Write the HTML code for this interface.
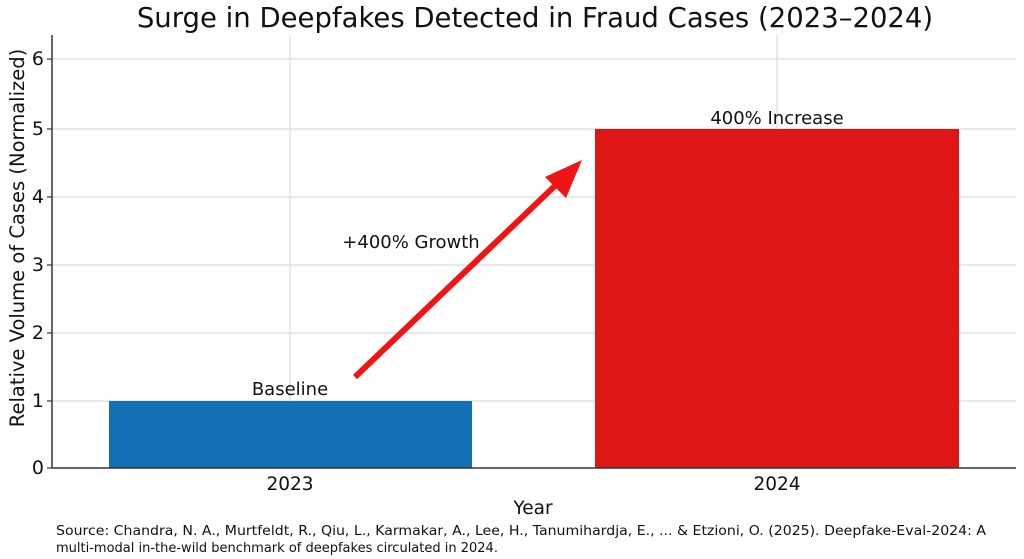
<!DOCTYPE html>
<html><head><style>
body{margin:0;background:#fff;}
svg{display:block;font-family:"DejaVu Sans",sans-serif;}
</style></head><body>
<svg width="1024" height="559" viewBox="0 0 1024 559">
<rect width="1024" height="559" fill="#fff"/>
<text x="535" y="27" font-size="27.5" text-anchor="middle" fill="#111">Surge in Deepfakes Detected in Fraud Cases (2023–2024)</text>
<g stroke="#dcdcdc" stroke-width="1.2">
<line x1="52" y1="59" x2="1016" y2="59"/>
<line x1="52" y1="129" x2="1016" y2="129"/>
<line x1="52" y1="197" x2="1016" y2="197"/>
<line x1="52" y1="265" x2="1016" y2="265"/>
<line x1="52" y1="333" x2="1016" y2="333"/>
<line x1="52" y1="401" x2="1016" y2="401"/>
<line x1="290" y1="35" x2="290" y2="468"/>
<line x1="777" y1="35" x2="777" y2="468"/>
</g>
<rect x="109" y="401" width="363" height="67" fill="#1470b4"/>
<rect x="595" y="129" width="364" height="339" fill="#de1616"/>
<line x1="52" y1="35" x2="52" y2="468" stroke="#333" stroke-width="1.5"/>
<line x1="52" y1="468" x2="1016" y2="468" stroke="#333" stroke-width="1.5"/>
<g font-size="19" fill="#111" text-anchor="end">
<text x="44" y="65">6</text><text x="44" y="135">5</text><text x="44" y="203">4</text>
<text x="44" y="271">3</text><text x="44" y="339">2</text><text x="44" y="407">1</text><text x="44" y="474">0</text>
</g>
<g stroke="#333" stroke-width="1.2">
<line x1="47" y1="59" x2="52" y2="59"/><line x1="47" y1="129" x2="52" y2="129"/><line x1="47" y1="197" x2="52" y2="197"/>
<line x1="47" y1="265" x2="52" y2="265"/><line x1="47" y1="333" x2="52" y2="333"/><line x1="47" y1="401" x2="52" y2="401"/>
<line x1="47" y1="468" x2="52" y2="468"/>
</g>
<text x="290" y="490" font-size="18.5" text-anchor="middle" fill="#111">2023</text>
<text x="777" y="490" font-size="18.5" text-anchor="middle" fill="#111">2024</text>
<text x="533" y="514" font-size="18.5" text-anchor="middle" fill="#111">Year</text>
<text transform="translate(24,238) rotate(-90)" font-size="19.5" text-anchor="middle" fill="#111">Relative Volume of Cases (Normalized)</text>
<text x="290" y="395" font-size="18" text-anchor="middle" fill="#111">Baseline</text>
<text x="777" y="124" font-size="18" text-anchor="middle" fill="#111">400% Increase</text>
<text x="411" y="248" font-size="18" text-anchor="middle" fill="#111">+400% Growth</text>
<line x1="355" y1="377" x2="560" y2="181" stroke="#f01414" stroke-width="6"/>
<polygon points="582,160 545,177 566,198" fill="#f01414"/>
<text x="56" y="535" font-size="13" fill="#111" textLength="930" lengthAdjust="spacingAndGlyphs">Source: Chandra, N. A., Murtfeldt, R., Qiu, L., Karmakar, A., Lee, H., Tanumihardja, E., ... &amp; Etzioni, O. (2025). Deepfake-Eval-2024: A</text>
<text x="56" y="552" font-size="13" fill="#111">multi-modal in-the-wild benchmark of deepfakes circulated in 2024.</text>
</svg>
</body></html>
